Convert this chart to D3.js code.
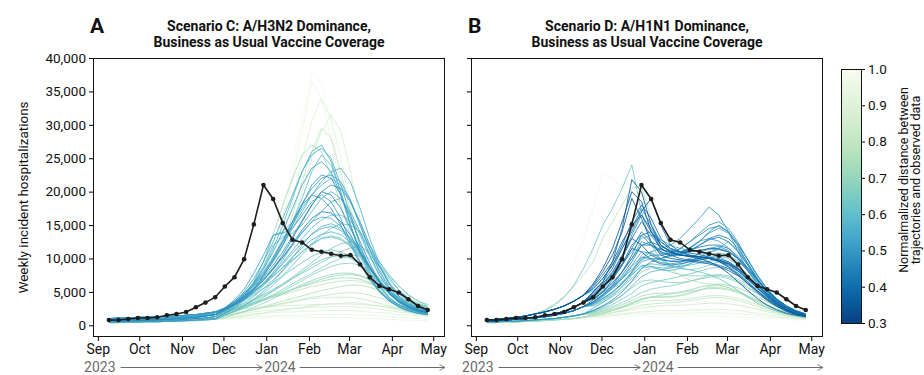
<!DOCTYPE html>
<html>
<head>
<meta charset="utf-8">
<script src="https://cdn.jsdelivr.net/npm/d3@7"></script>
<style>
body { margin: 0; background: #fff; }
svg text { font-family: Roboto, "DejaVu Sans", sans-serif; }
</style>
</head>
<body>
<div id="chart"></div>
<script>
//////////////////////////////////////////////////////////////////////////
// data (hospitalizations are in thousands)

var weekDates = ["2023-09-09","2023-09-16","2023-09-23","2023-09-30","2023-10-07","2023-10-14",
  "2023-10-21","2023-10-28","2023-11-04","2023-11-11","2023-11-18","2023-11-25","2023-12-02",
  "2023-12-09","2023-12-16","2023-12-23","2023-12-30","2024-01-06","2024-01-13","2024-01-20",
  "2024-01-27","2024-02-03","2024-02-10","2024-02-17","2024-02-24","2024-03-02","2024-03-09",
  "2024-03-16","2024-03-23","2024-03-30","2024-04-06","2024-04-13","2024-04-20","2024-04-27"];

var monthTicks = ["2023-09-01","2023-10-01","2023-11-01","2023-12-01","2024-01-01",
  "2024-02-01","2024-03-01","2024-04-01","2024-05-01"];

var yearLabels = ["2023", "2024"];
var yTicks = [0, 5, 10, 15, 20, 25, 30, 35, 40];
var colorTicks = [0.3, 0.4, 0.5, 0.6, 0.7, 0.8, 0.9, 1.0];

var panelLetters = ["A", "B"];
var panelTitles = [["Scenario C: A/H3N2 Dominance,", "Business as Usual Vaccine Coverage"],
                   ["Scenario D: A/H1N1 Dominance,", "Business as Usual Vaccine Coverage"]];

// observed weekly hospitalizations (same for both panels)
var observed = [0.8,0.8,0.95,1.1,1.1,1.2,1.5,1.7,2.0,2.7,3.4,4.2,5.8,7.2,9.9,15.1,21.0,18.9,15.3,
  12.8,12.4,11.3,11.0,10.7,10.4,10.5,9.1,7.2,5.9,5.4,4.9,3.9,2.9,2.3];

// scenario C trajectories and their distance to the data
var distA = [0.98,0.94,0.9,0.86,0.8,0.74,0.58,0.55,0.6,0.53,0.5,0.47,0.45,0.5,0.52,0.55,0.57,0.62,
  0.55,0.6,0.65,0.63,0.68,0.7,0.72,0.66,0.76,0.8,0.84,0.87,0.9,0.93,0.85,0.78,0.5,0.95,0.57,0.6,
  0.55,0.58,0.53,0.61,0.64,0.56,0.67,0.59,0.73,0.82];

var trajA = [
  [0.8,0.8,0.9,0.9,1.0,1.0,1.1,1.2,1.3,1.4,1.6,1.9,2.3,3.0,4.2,6,8.5,12,17,24,31,38,36,30,22,15,10,6.5,4.5,3.2,2.5,2,1.7,1.5],
  [0.6,0.6,0.6,0.7,0.7,0.7,0.8,0.8,0.9,1.0,1.1,1.3,2.0,2.8,3.8,5.4,7.8,11,16,22,29,36.4,34,28,21,14,9.5,6.2,4.3,3.1,2.4,1.9,1.6,1.4],
  [0.7,0.7,0.8,0.8,0.8,0.9,0.9,1.0,1.1,1.2,1.4,1.6,2.2,2.9,3.9,5.3,7.3,10,13.5,18.5,25,30.5,34,31,25,18,12,8,5.4,3.8,2.8,2.2,1.8,1.6],
  [0.6,0.6,0.6,0.7,0.7,0.7,0.8,0.8,0.9,1.0,1.1,1.3,1.8,2.4,3.2,4.3,5.8,8,11,15,20,25,29,31.5,29,23,16,10.5,7,4.8,3.4,2.6,2.1,1.8],
  [0.5,0.5,0.5,0.5,0.6,0.6,0.6,0.7,0.7,0.8,0.9,1.0,1.6,2.2,3.0,4.2,6,8.5,12,16.5,21.5,26,29.5,28,23,17,11.5,7.8,5.3,3.7,2.7,2.1,1.7,1.5],
  [0.8,0.8,0.9,0.9,1.0,1.0,1.1,1.2,1.3,1.4,1.6,1.9,2.4,3.2,4.5,6.5,9.5,13.5,18,22,25.5,27,26,22.5,18,13.5,9.5,6.8,5,3.8,3,2.5,2.2,2],
  [0.7,0.7,0.8,0.8,0.8,0.9,0.9,1.0,1.1,1.2,1.4,1.6,2.5,3.4,4.6,6.2,8.5,11.5,15,19,23,26,27,24.5,20,15,11,7.5,5.2,3.7,2.8,2.2,1.8,1.6],
  [1.0,1.1,1.1,1.2,1.2,1.3,1.3,1.4,1.5,1.6,1.8,2.0,2.6,3.6,5,7,9.5,12.5,16,19.5,23,25.5,26.5,25,21,16.5,12,8.5,6,4.2,3.1,2.4,2,1.8],
  [0.6,0.6,0.6,0.7,0.7,0.7,0.8,0.8,0.9,1.0,1.1,1.3,2.0,2.8,4.2,6.5,9.5,13.5,14,15.5,19,23,25.5,24,20,15,10.5,7.2,5,3.6,2.7,2.1,1.8,1.6],
  [0.8,0.8,0.9,0.9,1.0,1.0,1.1,1.2,1.3,1.4,1.6,1.9,2.6,3.6,4.8,6.4,8.4,11,14,17.5,21,23.5,24.5,23,19.5,15,11,8,5.7,4.1,3.1,2.4,2,1.8],
  [1.0,1.1,1.1,1.2,1.2,1.3,1.3,1.4,1.5,1.6,1.8,2.0,2.5,3.3,4.4,5.8,7.5,9.5,12,15,18,21,22.5,22,19.5,16,12.5,9.3,6.6,4.7,3.4,2.6,2.1,1.8],
  [0.6,0.6,0.6,0.7,0.7,0.7,0.8,0.8,0.9,1.0,1.1,1.3,2.2,3.0,4.0,5.2,6.7,8.5,10.5,13,15.5,18,20,19.5,17.5,14.5,11.5,8.8,6.5,4.8,3.6,2.8,2.3,2],
  [0.7,0.7,0.8,0.8,0.8,0.9,0.9,1.0,1.1,1.2,1.4,1.6,2.4,3.2,4.2,5.4,6.8,8.4,10.2,12.2,14.3,16,17,16.8,15.5,13.5,11,8.6,6.5,4.8,3.6,2.8,2.2,1.9],
  [0.5,0.5,0.5,0.5,0.6,0.6,0.6,0.7,0.7,0.8,0.9,1.0,1.8,2.6,3.8,5.4,7.4,9.8,12.5,15.5,18,19.5,19,17.5,15,12,9.2,6.8,5,3.7,2.8,2.2,1.8,1.6],
  [1.0,1.1,1.1,1.2,1.2,1.3,1.3,1.4,1.5,1.6,1.8,2.0,2.6,3.8,5.4,7.8,10.5,13.5,13.8,14.5,16.5,18.5,19.5,18.5,16,12.5,9.5,7,5.2,3.9,3,2.4,2,1.8],
  [0.8,0.8,0.9,0.9,1.0,1.0,1.1,1.2,1.3,1.4,1.6,1.9,2.3,3.0,3.9,5.0,6.3,7.9,9.8,12,14,15.5,16.2,16,14.8,13,10.8,8.6,6.6,5,3.8,3,2.5,2.2],
  [0.4,0.4,0.5,0.5,0.5,0.5,0.6,0.6,0.7,0.7,0.8,0.9,1.5,2.1,2.9,3.9,5.1,6.5,8.2,10.1,12,13.7,14.8,15.2,14.5,13,11,8.8,6.8,5.1,3.9,3.1,2.6,2.3],
  [0.5,0.5,0.5,0.5,0.6,0.6,0.6,0.7,0.7,0.8,0.9,1.0,1.8,2.3,3,3.8,4.8,6,7.4,9,10.6,12,13,13.4,13,12,10.5,8.6,6.8,5.2,4,3.2,2.7,2.4],
  [0.7,0.7,0.8,0.8,0.8,0.9,0.9,1.0,1.1,1.2,1.4,1.6,2.3,3.1,4.2,5.5,7,8.6,10.2,12,13.8,15.5,17,18.5,19,17,14,10.5,7.5,5.3,3.8,2.9,2.3,2],
  [1.0,1.1,1.1,1.2,1.2,1.3,1.3,1.4,1.5,1.6,1.8,2.0,2.5,3.3,4.2,5.2,6.2,7.4,8.6,9.8,11,12.2,13.5,14.5,15.2,15,14,12,9.5,7.2,5.3,4,3.1,2.6],
  [0.6,0.6,0.6,0.7,0.7,0.7,0.8,0.8,0.9,1.0,1.1,1.3,1.9,2.4,3,3.7,4.4,5.2,6.2,7.2,8.3,9.4,10.5,11.5,12.2,12.5,12,10.6,8.8,6.9,5.3,4.1,3.3,2.8],
  [0.8,0.8,0.9,0.9,1.0,1.0,1.1,1.2,1.3,1.4,1.6,1.9,2.2,2.9,3.7,4.6,5.5,6.4,7.4,8.4,9.4,10.3,11,11.3,11,10.3,9.2,7.8,6.4,5.1,4,3.2,2.7,2.4],
  [0.5,0.5,0.5,0.5,0.6,0.6,0.6,0.7,0.7,0.8,0.9,1.0,1.6,2,2.5,3.1,3.7,4.4,5.1,5.9,6.7,7.5,8.2,8.8,9.2,9.3,9,8.2,7,5.8,4.7,3.8,3.1,2.6],
  [0.4,0.4,0.5,0.5,0.5,0.5,0.6,0.6,0.7,0.7,0.8,0.9,1.2,1.6,2.1,2.7,3.3,4,4.7,5.4,6.1,6.7,7.2,7.6,7.8,7.8,7.5,6.8,5.9,4.9,4,3.3,2.8,2.4],
  [1.0,1.1,1.1,1.2,1.2,1.3,1.3,1.4,1.5,1.6,1.8,2.0,2.1,2.5,2.9,3.4,3.9,4.4,4.9,5.4,5.9,6.4,6.9,7.3,7.5,7.6,7.4,6.8,6,5.1,4.2,3.5,3,2.6],
  [0.8,0.8,0.9,0.9,1.0,1.0,1.1,1.2,1.3,1.4,1.6,1.9,2.1,2.6,3.2,3.9,4.6,5.4,6.2,7,7.8,8.6,9.4,10.2,11,11.6,11.8,11,9.5,7.6,5.9,4.5,3.6,3.1],
  [0.5,0.5,0.5,0.5,0.6,0.6,0.6,0.7,0.7,0.8,0.9,1.0,1.4,1.7,2,2.4,2.8,3.2,3.6,4,4.4,4.8,5.2,5.5,5.8,6,6,5.7,5.2,4.5,3.8,3.2,2.7,2.3],
  [0.6,0.6,0.6,0.7,0.7,0.7,0.8,0.8,0.9,1.0,1.1,1.3,1.5,1.8,2.1,2.4,2.7,3,3.3,3.6,3.9,4.2,4.4,4.6,4.8,4.9,4.8,4.5,4.1,3.6,3.1,2.7,2.3,2],
  [0.4,0.4,0.5,0.5,0.5,0.5,0.6,0.6,0.7,0.7,0.8,0.9,1.0,1.2,1.4,1.6,1.8,2.1,2.3,2.5,2.7,2.9,3.1,3.2,3.3,3.4,3.3,3.1,2.9,2.6,2.3,2,1.8,1.6],
  [0.6,0.6,0.6,0.7,0.7,0.7,0.8,0.8,0.9,1.0,1.1,1.3,1.4,1.6,1.8,2,2.2,2.3,2.4,2.5,2.6,2.7,2.7,2.8,2.8,2.8,2.7,2.6,2.4,2.2,2,1.8,1.6,1.5],
  [0.5,0.5,0.5,0.5,0.6,0.6,0.6,0.7,0.7,0.8,0.9,1.0,1.1,1.3,1.5,1.7,1.8,1.9,2,2,2.1,2.1,2.2,2.2,2.2,2.2,2.1,2,1.9,1.8,1.6,1.5,1.4,1.3],
  [0.4,0.4,0.5,0.5,0.5,0.5,0.6,0.6,0.7,0.7,0.8,0.9,1.0,1.1,1.2,1.3,1.4,1.4,1.5,1.5,1.5,1.6,1.6,1.6,1.6,1.6,1.5,1.5,1.4,1.3,1.2,1.1,1,0.9],
  [0.8,0.8,0.9,0.9,1.0,1.0,1.1,1.2,1.3,1.4,1.6,1.9,2.1,2.3,2.5,2.6,2.7,2.8,2.9,3,3,3.1,3.1,3.2,3.2,3.2,3.1,3,2.9,2.7,2.5,2.3,2.1,2],
  [1.0,1.1,1.1,1.2,1.2,1.3,1.3,1.4,1.5,1.6,1.8,2.0,2.2,2.6,3,3.4,3.8,4.2,4.6,5,5.4,5.8,6.1,6.4,6.6,6.7,6.6,6.2,5.6,4.9,4.2,3.6,3.1,2.7],
  [0.7,0.7,0.8,0.8,0.8,0.9,0.9,1.0,1.1,1.2,1.4,1.6,2.5,3.3,4.3,5.6,7.2,9,11,13.3,15.7,18,20,21,20.5,18.5,15.5,12,8.8,6.2,4.4,3.2,2.5,2.1],
  [0.4,0.4,0.5,0.5,0.5,0.5,0.6,0.6,0.7,0.7,0.8,0.9,0.9,1,1,1.1,1.1,1.2,1.2,1.2,1.2,1.2,1.2,1.2,1.2,1.1,1.1,1,1,0.9,0.8,0.8,0.7,0.7],
  [0.8,0.8,0.9,0.9,1.0,1.0,1.1,1.2,1.3,1.4,1.6,1.9,2.4,3.3,4.5,6,7.8,10,12.5,15,17.5,19.5,21,22,21,18.5,15,11.5,8.3,5.8,4.1,3,2.4,2],
  [0.7,0.7,0.8,0.8,0.8,0.9,0.9,1.0,1.1,1.2,1.4,1.6,2.2,2.9,3.8,4.9,6.2,7.7,9.4,11.2,13,14.6,15.8,16.5,16.5,15.6,13.8,11.4,8.8,6.5,4.7,3.5,2.7,2.2],
  [1.0,1.1,1.1,1.2,1.2,1.3,1.3,1.4,1.5,1.6,1.8,2.0,2.4,3.1,4,5,6.2,7.6,9.2,10.8,12.3,13.6,14.5,14.8,14.2,12.8,10.8,8.6,6.5,4.8,3.5,2.6,2,1.7],
  [0.7,0.7,0.8,0.8,0.8,0.9,0.9,1.0,1.1,1.2,1.4,1.6,2.3,3,3.8,4.8,6,7.3,8.7,10.2,11.6,12.8,13.6,14,13.6,12.4,10.6,8.6,6.6,4.9,3.6,2.7,2.1,1.8],
  [0.8,0.8,0.9,0.9,1.0,1.0,1.1,1.2,1.3,1.4,1.6,1.9,2.6,3.5,4.7,6.2,8,10.2,12.8,15.5,18.2,20.5,22,22.5,21.5,18.8,15,11.2,8,5.6,3.9,2.8,2.2,1.8],
  [0.6,0.6,0.6,0.7,0.7,0.7,0.8,0.8,0.9,1.0,1.1,1.3,2,2.6,3.4,4.4,5.5,6.8,8.2,9.6,11,12.2,13,13.2,12.8,11.8,10.2,8.4,6.6,5,3.8,2.9,2.3,1.9],
  [0.4,0.4,0.5,0.5,0.5,0.5,0.6,0.6,0.7,0.7,0.8,0.9,1.6,2.1,2.7,3.4,4.2,5.1,6,7,8,9,9.8,10.3,10.4,10,9.1,7.8,6.4,5,3.9,3,2.4,2],
  [1.0,1.1,1.1,1.2,1.2,1.3,1.3,1.4,1.5,1.6,1.8,2.0,2.6,3.5,4.6,6,7.7,9.7,12,14.5,17,19.5,21.5,23,23.5,21.5,17.5,13,9.2,6.3,4.3,3,2.3,1.9],
  [0.5,0.5,0.5,0.5,0.6,0.6,0.6,0.7,0.7,0.8,0.9,1.0,1.7,2.1,2.6,3.2,3.9,4.6,5.4,6.2,7,7.8,8.6,9.4,10,10.4,10.5,10,8.9,7.4,5.9,4.6,3.6,2.9],
  [0.8,0.8,0.9,0.9,1.0,1.0,1.1,1.2,1.3,1.4,1.6,1.9,2.4,3.3,4.5,6.3,8.8,12,13.2,13.8,15,17,19,20,19,16.5,13.5,10.3,7.5,5.3,3.8,2.8,2.2,1.9],
  [0.7,0.7,0.8,0.8,0.8,0.9,0.9,1.0,1.1,1.2,1.4,1.6,1.9,2.3,2.8,3.3,3.8,4.3,4.8,5.3,5.8,6.2,6.6,6.9,7.1,7.1,6.9,6.4,5.7,4.9,4.1,3.4,2.8,2.4],
  [0.6,0.6,0.6,0.7,0.7,0.7,0.8,0.8,0.9,1.0,1.1,1.3,1.4,1.7,2,2.3,2.6,2.9,3.2,3.5,3.8,4,4.1,4.2,4.2,4.2,4,3.7,3.3,2.9,2.5,2.1,1.8,1.6]
];

// scenario D trajectories and their distance to the data
var distB = [0.97,0.78,0.63,0.36,0.4,0.42,0.45,0.5,0.48,0.52,0.38,0.43,0.55,0.58,0.6,0.47,0.44,0.65,
  0.68,0.72,0.75,0.8,0.84,0.88,0.92,0.96,0.7,0.55,0.5,0.46,0.62,0.4,0.66,0.53,
  0.37,0.39,0.41,0.35,0.44,0.5,0.56,0.48,0.69,0.74,0.82,0.77];

var trajB = [
  [0.8,1.0,1.2,1.5,1.9,2.4,3.1,4.2,6,9,13,17.5,22.5,22,20.5,18,14.5,11,8.5,7,6,5.3,4.8,4.4,4,3.6,3.2,2.8,2.4,2.1,1.8,1.6,1.4,1.2],
  [0.7,0.8,0.9,1.1,1.4,1.8,2.4,3.2,4.3,5.8,7.5,9.5,13,15.5,18,20.5,20.8,16,11,8.5,7.5,6.8,6.4,6.2,6,5.6,5,4.3,3.6,3,2.4,2,1.7,1.5],
  [0.7,0.8,0.9,1.1,1.3,1.7,2.2,3,4.2,6,8.5,11.5,15,17.5,20.5,24,17,12,9.8,9,8.6,8.3,8,7.6,7,6.2,5.2,4.2,3.3,2.6,2.1,1.7,1.4,1.2],
  [0.7,0.7,0.8,0.9,1.0,1.2,1.4,1.7,2.1,2.7,3.5,5,6.5,9.5,14.5,21.8,20,15,12,11,10.5,10.3,10,9.5,8.8,7.8,6.5,5.2,4,3,2.3,1.8,1.5,1.3],
  [0.8,0.9,1.0,1.2,1.4,1.7,2.0,2.4,2.9,3.6,4.5,5.5,7,9,12,15.5,18,16,13,11.5,11,10.8,10.6,10.2,9.6,8.7,7.5,6.2,4.9,3.7,2.8,2.1,1.7,1.4],
  [0.6,0.7,0.8,0.9,1.0,1.1,1.3,1.5,1.8,2.2,2.8,3.5,4.6,6,8,10.5,13.5,14,12.5,11.5,11,11,11.2,11.5,11.5,11,10,8.5,6.8,5.2,3.9,2.9,2.2,1.7],
  [0.7,0.7,0.8,0.9,1.0,1.2,1.4,1.7,2.1,2.7,3.5,4.3,5.5,7,9,11.5,14,12.5,11,10.5,10.5,11,12,13,13.5,13,11.5,9.3,7,5.2,3.8,2.8,2.1,1.7],
  [0.6,0.7,0.8,0.9,1.0,1.1,1.3,1.5,1.8,2.2,2.8,3.2,4,5,6.3,8,10,11,11.5,12,13,14.5,16,17.7,16.5,14,11,8.2,6,4.4,3.2,2.4,1.9,1.5],
  [0.5,0.5,0.6,0.6,0.7,0.8,0.9,1.0,1.2,1.4,1.7,2.2,2.9,3.8,5,6.6,8.5,9.5,10,10.5,11.5,12.5,13.5,14.5,14.8,14,12.2,9.8,7.4,5.4,3.9,2.8,2.1,1.6],
  [0.7,0.7,0.8,0.9,1.0,1.2,1.4,1.7,2.1,2.7,3.5,4.2,5.2,6.4,8,10,12.5,12,11,10.5,10.8,11.6,12.6,13.8,14.5,13.8,12,9.8,7.5,5.5,4,2.9,2.2,1.7],
  [0.8,0.9,1.0,1.2,1.4,1.7,2.0,2.4,2.9,3.6,4.5,5.8,7.5,9.5,12.5,15,16.5,14,12,11,10.5,10.3,10.2,10,9.8,9.3,8.5,7.3,6,4.7,3.5,2.6,2,1.6],
  [0.7,0.7,0.8,0.9,1.0,1.2,1.4,1.7,2.1,2.7,3.5,4.5,5.8,7.5,10,13,15.5,13.5,11.5,10.5,10,9.8,9.6,9.4,9,8.5,7.6,6.5,5.2,4,3,2.3,1.8,1.5],
  [0.6,0.7,0.8,0.9,1.0,1.1,1.3,1.5,1.8,2.2,2.8,3.3,4.3,5.6,7.2,9,11,10.8,10,9.6,9.5,9.7,10,10.5,10.8,10.5,9.6,8.2,6.6,5,3.7,2.7,2,1.6],
  [0.5,0.5,0.6,0.6,0.7,0.8,0.9,1.0,1.2,1.4,1.7,2.1,2.7,3.5,4.5,5.8,7.3,8,8.3,8.6,9,9.6,10.3,11,11.3,11,10,8.4,6.6,4.9,3.6,2.6,1.9,1.5],
  [0.6,0.7,0.8,0.9,1.0,1.1,1.3,1.5,1.8,2.2,2.8,3,3.7,4.6,5.7,7,8.5,8.8,8.6,8.6,8.8,9.2,9.7,10.2,10.4,10,9,7.6,6,4.5,3.3,2.4,1.8,1.4],
  [0.8,0.9,1.0,1.2,1.4,1.7,2.0,2.4,2.9,3.6,4.5,5.5,7,9,11.5,14.5,17.5,15,12.5,11.3,10.8,10.5,10.3,10,9.5,8.8,7.8,6.5,5.1,3.9,2.9,2.2,1.7,1.4],
  [0.7,0.7,0.8,0.9,1.0,1.2,1.4,1.7,2.1,2.7,3.5,4,5,6.3,8,10,12,12,11.3,11,11,11.3,11.7,12,12,11.5,10.3,8.6,6.8,5.1,3.8,2.8,2.1,1.6],
  [0.5,0.5,0.6,0.6,0.7,0.8,0.9,1.0,1.2,1.4,1.7,2,2.5,3.1,3.9,4.8,5.9,6.4,6.7,7,7.3,7.7,8.1,8.5,8.7,8.5,7.8,6.8,5.6,4.4,3.3,2.5,1.9,1.5],
  [0.5,0.5,0.6,0.6,0.7,0.8,0.9,1.0,1.2,1.4,1.7,1.9,2.3,2.8,3.4,4.1,4.9,5.4,5.7,5.9,6.2,6.6,7,7.4,7.6,7.4,6.9,6.1,5.1,4.1,3.2,2.5,1.9,1.5],
  [0.4,0.4,0.5,0.5,0.6,0.6,0.7,0.8,0.9,1.0,1.2,1.5,1.8,2.2,2.7,3.2,3.8,4.2,4.5,4.7,5,5.3,5.7,6,6.2,6,5.6,5,4.3,3.5,2.8,2.2,1.7,1.4],
  [0.5,0.5,0.6,0.6,0.7,0.8,0.9,1.0,1.2,1.4,1.7,1.8,2.1,2.4,2.8,3.3,3.9,4.2,4.2,4.2,4.4,4.7,5.2,5.8,6,5.7,5.1,4.4,3.7,3,2.4,1.9,1.5,1.2],
  [0.4,0.4,0.5,0.5,0.6,0.6,0.7,0.8,0.9,1.0,1.2,1.4,1.6,1.9,2.2,2.6,3,3.2,3.3,3.4,3.5,3.7,3.9,4.1,4.2,4,3.7,3.3,2.8,2.3,1.9,1.5,1.2,1],
  [0.5,0.5,0.6,0.6,0.7,0.8,0.9,1.0,1.2,1.4,1.7,1.5,1.7,1.9,2.1,2.3,2.6,2.8,2.9,3,3,3.1,3.2,3.3,3.3,3.2,3,2.7,2.4,2,1.7,1.4,1.2,1],
  [0.4,0.4,0.5,0.5,0.6,0.6,0.7,0.8,0.9,1.0,1.2,1.3,1.4,1.6,1.7,1.9,2,2.1,2.2,2.2,2.2,2.3,2.3,2.4,2.4,2.3,2.2,2,1.8,1.6,1.4,1.2,1,0.9],
  [0.5,0.5,0.6,0.6,0.7,0.8,0.9,1.0,1.2,1.4,1.3,1.3,1.4,1.5,1.6,1.7,1.8,1.8,1.8,1.8,1.8,1.8,1.9,1.9,1.9,1.8,1.7,1.6,1.5,1.3,1.2,1.1,1,0.9],
  [0.4,0.4,0.5,0.5,0.6,0.6,0.7,0.8,0.9,1.0,1.2,1.2,1.2,1.3,1.3,1.4,1.4,1.4,1.4,1.4,1.4,1.4,1.4,1.4,1.4,1.3,1.3,1.2,1.1,1,1,0.9,0.8,0.8],
  [0.6,0.7,0.8,0.9,1.0,1.1,1.3,1.5,1.8,2.2,2.8,2.9,3.5,4.3,5.3,6.5,8,8.6,8.4,8,7.6,7.4,7.4,7.5,7.5,7.2,6.6,5.8,4.8,3.8,3,2.3,1.8,1.4],
  [0.8,0.9,1.0,1.2,1.4,1.7,2.0,2.4,2.9,3.6,4.5,5.2,6.3,7.6,9.2,11,13,13.5,12.8,12,11.5,11.2,11,10.8,10.3,9.5,8.4,7,5.6,4.3,3.2,2.4,1.8,1.5],
  [0.7,0.7,0.8,0.9,1.0,1.2,1.4,1.7,2.1,2.7,3.5,4,4.9,5.9,7,8.3,9.8,10.5,10.5,10.8,11.4,12.5,13.8,15,15.5,14.5,12.4,9.8,7.4,5.4,3.9,2.8,2.1,1.6],
  [0.6,0.7,0.8,0.9,1.0,1.1,1.3,1.5,1.8,2.2,2.8,3.5,4.5,5.8,7.5,9.5,12,12.5,11.8,11.2,11,11,11.2,11.4,11.4,11,10,8.5,6.8,5.2,3.9,2.9,2.1,1.6],
  [0.7,0.7,0.8,0.9,1.0,1.2,1.4,1.7,2.1,2.7,3.5,3.8,4.6,5.5,6.5,7.6,8.8,9.2,9,8.8,8.8,9,9.3,9.6,9.7,9.3,8.4,7.2,5.9,4.6,3.5,2.6,2,1.6],
  [0.7,0.7,0.8,0.9,1.0,1.2,1.4,1.7,2.1,2.7,3.5,5,6.5,8.5,11.5,14,17,19,15,12,11,10.5,10.2,10,9.7,9.2,8.4,7.3,6,4.7,3.5,2.6,2,1.6],
  [0.6,0.7,0.8,0.9,1.0,1.1,1.3,1.5,1.8,2.2,2.8,3,3.8,4.8,6.2,8,10.5,11,10,9,8.5,8.3,8.5,9,9.5,9.2,8.3,7,5.7,4.4,3.3,2.5,1.9,1.5],
  [0.6,0.7,0.8,0.9,1.0,1.1,1.3,1.5,1.8,2.2,2.8,3.2,4,5,6.2,7.8,9.5,10,10,10.3,10.8,11.6,12.6,13,12.6,11.6,10,8.2,6.4,4.8,3.5,2.6,2,1.6],
  [0.8,0.9,1.0,1.2,1.4,1.7,2.0,2.4,2.9,3.6,4.5,6,8,10.5,14,19,16,12.5,10.5,10,9.8,9.6,9.4,9.2,8.8,8.2,7.4,6.3,5.1,3.9,2.9,2.1,1.6,1.3],
  [0.7,0.7,0.8,0.9,1.0,1.2,1.4,1.7,2.1,2.7,3.5,4.8,6.2,8,10.5,13,12,10.5,9.8,9.6,9.6,9.8,10,10.2,10,9.5,8.6,7.3,5.9,4.5,3.3,2.4,1.8,1.4],
  [0.6,0.7,0.8,0.9,1.0,1.1,1.3,1.5,1.8,2.2,2.8,3.8,5,6.8,9,11.5,11,9.8,9.2,9,9.2,9.5,9.8,10,9.8,9.2,8.2,6.9,5.5,4.2,3.1,2.3,1.7,1.3],
  [0.8,0.9,1.0,1.2,1.4,1.7,2.0,2.4,2.9,3.6,4.5,6.2,8.5,11.5,15.5,20,18.5,14,11.5,10.8,10.5,10.4,10.3,10,9.6,9,8.1,6.9,5.6,4.3,3.2,2.3,1.7,1.4],
  [0.7,0.7,0.8,0.9,1.0,1.2,1.4,1.7,2.1,2.7,3.5,4.4,5.6,7.2,9.2,12,13.5,12,10.8,10.4,10.6,11.2,12,12.8,13.2,12.5,11,9,6.9,5.1,3.7,2.7,2,1.5],
  [0.6,0.7,0.8,0.9,1.0,1.1,1.3,1.5,1.8,2.2,2.8,3.4,4.3,5.5,7,8.8,10.2,10,9.4,9.2,9.4,10,10.8,11.5,11.8,11.2,9.9,8.1,6.3,4.7,3.4,2.5,1.9,1.5],
  [0.5,0.5,0.6,0.6,0.7,0.8,0.9,1.0,1.2,1.4,1.7,2.6,3.4,4.4,5.8,7.5,9,8.8,8.3,8.2,8.5,9.2,10,10.8,11.6,12.5,11.2,9,6.8,5,3.6,2.6,1.9,1.5],
  [0.7,0.7,0.8,0.9,1.0,1.2,1.4,1.7,2.1,2.7,3.5,4.6,6,7.8,10.2,13.5,16.5,14.5,12,11,11,11.5,12.5,14,15,14,11.8,9.2,6.8,4.9,3.5,2.5,1.9,1.5],
  [0.5,0.5,0.6,0.6,0.7,0.8,0.9,1.0,1.2,1.4,1.7,2.3,2.9,3.6,4.5,5.6,6.6,6.8,6.6,6.4,6.4,6.6,6.9,7.2,7.3,7,6.4,5.6,4.7,3.8,3,2.3,1.8,1.4],
  [0.4,0.4,0.5,0.5,0.6,0.6,0.7,0.8,0.9,1.0,1.2,1.7,2.1,2.6,3.1,3.7,4.4,4.7,4.8,4.8,4.9,5.1,5.3,5.5,5.5,5.3,4.9,4.4,3.8,3.1,2.5,2,1.6,1.3],
  [0.5,0.5,0.6,0.6,0.7,0.8,0.9,1.0,1.2,1.4,1.7,1.6,1.9,2.2,2.6,3,3.5,3.7,3.7,3.7,3.8,4,4.2,4.4,4.5,4.3,4,3.6,3.1,2.6,2.1,1.7,1.4,1.1],
  [0.4,0.4,0.5,0.5,0.6,0.6,0.7,0.8,0.9,1.0,1.2,1.6,1.9,2.3,2.8,3.4,4,4.3,4.3,4.3,4.5,4.9,5.3,5.6,5.7,5.4,4.9,4.2,3.5,2.8,2.2,1.7,1.4,1.1]
];

//////////////////////////////////////////////////////////////////////////
// layout

var Width = 924;
var Height = 375;
var PlotTop = 58;
var PlotWidth = 352;
var PlotHeight = 279;
var PanelLefts = [93, 471];
var LineOpacity = 0.85;
var YearGray = "#6b6b6b";

var parseDate = d3.timeParse("%Y-%m-%d");

function initialize () {

    var svg = d3.select("#chart")
        .append("svg")
        .attr("width", Width)
        .attr("height", Height);

    // arrowhead for the year row
    svg.append("defs").append("marker")
        .attr("id", "arrow")
        .attr("viewBox", "0 0 10 10")
        .attr("refX", 9).attr("refY", 5)
        .attr("markerWidth", 7).attr("markerHeight", 7)
        .attr("markerUnits", "userSpaceOnUse")
        .attr("orient", "auto")
        .append("path")
        .attr("d", "M1,1 L9,5 L1,9")
        .attr("fill", "none")
        .attr("stroke", YearGray)
        .attr("stroke-width", 1.2);

    var dates = weekDates.map(parseDate);

    var xScale = d3.scaleTime()
        .domain([new Date(2023, 7, 28, 12), new Date(2024, 4, 9, 12)])
        .range([0, PlotWidth]);

    var yScale = d3.scaleLinear()
        .domain([-1.75, 40])
        .range([PlotHeight, 0]);

    // GnBu reversed: 0.3 is dark blue, 1.0 is almost white
    var colorScale = d3.scaleSequential(function (t) { return d3.interpolateGnBu(1 - t); })
        .domain([0.3, 1.0]);

    makePanel(svg, 0, trajA, distA, dates, xScale, yScale, colorScale, true);
    makePanel(svg, 1, trajB, distB, dates, xScale, yScale, colorScale, false);

    makeColorbar(svg, colorScale);

} // end initialize

// one scenario panel
function makePanel (svg, idx, traj, dist, dates, xScale, yScale, colorScale, showYLabels) {

    var left = PanelLefts[idx];
    var g = svg.append("g")
        .attr("transform", "translate(" + left + "," + PlotTop + ")");

    var line = d3.line()
        .x(function (v, i) { return xScale(dates[i]); })
        .y(function (v) { return yScale(v); });

    // far trajectories first so the close ones end up on top
    var rows = traj.map(function (v, i) { return { d: dist[i], v: v }; })
        .sort(function (a, b) { return b.d - a.d; });

    g.append("g")
        .selectAll("path")
        .data(rows)
        .enter()
        .append("path")
        .attr("d", function (r) { return line(r.v); })
        .attr("fill", "none")
        .attr("stroke", function (r) { return colorScale(r.d); })
        .attr("stroke-width", 1)
        .attr("stroke-opacity", LineOpacity);

    // observed data
    g.append("path")
        .attr("d", line(observed))
        .attr("fill", "none")
        .attr("stroke", "#1e1e1e")
        .attr("stroke-width", 1.6);

    g.append("g")
        .selectAll("circle")
        .data(observed)
        .enter()
        .append("circle")
        .attr("cx", function (v, i) { return xScale(dates[i]); })
        .attr("cy", function (v) { return yScale(v); })
        .attr("r", 2.3)
        .attr("fill", "#1e1e1e");

    // axes
    var yAxis = d3.axisLeft(yScale)
        .tickValues(yTicks)
        .tickSize(4)
        .tickSizeOuter(0)
        .tickFormat(function (d) { return showYLabels ? d3.format(",")(d * 1000) : ""; });

    var yG = g.append("g").call(yAxis);
    yG.select(".domain").remove();
    yG.selectAll("text").attr("font-size", "13.5px").attr("fill", "#111");

    var xAxis = d3.axisBottom(xScale)
        .tickValues(monthTicks.map(parseDate))
        .tickSize(4)
        .tickSizeOuter(0)
        .tickFormat(d3.timeFormat("%b"));

    var xG = g.append("g")
        .attr("transform", "translate(0," + PlotHeight + ")")
        .call(xAxis);
    xG.select(".domain").remove();
    xG.selectAll("text").attr("font-size", "14px").attr("fill", "#111");

    // frame
    g.append("rect")
        .attr("x", 0.5).attr("y", 0.5)
        .attr("width", PlotWidth - 1).attr("height", PlotHeight - 1)
        .attr("fill", "none")
        .attr("stroke", "#111")
        .attr("stroke-width", 1);

    if (showYLabels) {
        svg.append("text")
            .attr("transform", "translate(28," + (PlotTop + PlotHeight / 2) + ") rotate(-90)")
            .attr("text-anchor", "middle")
            .attr("font-size", "13.5px")
            .attr("fill", "#111")
            .text("Weekly incident hospitalizations");
    }

    // title and panel letter
    var cx = left + PlotWidth / 2;
    [31, 47].forEach(function (ty, k) {
        svg.append("text")
            .attr("x", cx)
            .attr("y", ty)
            .attr("text-anchor", "middle")
            .attr("font-size", "14px")
            .attr("font-weight", "bold")
            .attr("fill", "#111")
            .text(panelTitles[idx][k]);
    });

    svg.append("text")
        .attr("x", left - 3)
        .attr("y", 33)
        .attr("font-size", "21px")
        .attr("font-weight", "bold")
        .attr("fill", "#111")
        .text(panelLetters[idx]);

    makeYearRow(svg, left, xScale);

} // end makePanel

// "2023 ---> 2024 --->" row under the month labels
function makeYearRow (svg, left, xScale) {

    var y = 372;
    var yLine = 367.5;

    var t1 = svg.append("text")
        .attr("x", left + xScale(parseDate(monthTicks[0])) + 2)
        .attr("y", y)
        .attr("text-anchor", "middle")
        .attr("font-size", "14px")
        .attr("fill", YearGray)
        .text(yearLabels[0]);

    var t2 = svg.append("text")
        .attr("x", left + xScale(parseDate(monthTicks[4])) - 2)
        .attr("y", y)
        .attr("font-size", "14px")
        .attr("fill", YearGray)
        .text(yearLabels[1]);

    var w1 = t1.node().getComputedTextLength();
    var w2 = t2.node().getComputedTextLength();
    var x1 = +t1.attr("x") + w1 / 2 + 5;
    var x2 = +t2.attr("x") - 2;
    var x3 = +t2.attr("x") + w2 + 4;
    var x4 = left + PlotWidth;

    [[x1, x2], [x3, x4]].forEach(function (seg) {
        svg.append("line")
            .attr("x1", seg[0]).attr("x2", seg[1])
            .attr("y1", yLine).attr("y2", yLine)
            .attr("stroke", YearGray)
            .attr("stroke-width", 1.2)
            .attr("marker-end", "url(#arrow)");
    });

} // end makeYearRow

// colour bar on the right
function makeColorbar (svg, colorScale) {

    var cbX = 841, cbTop = 69, cbBottom = 323, cbW = 20;

    var cbScale = d3.scaleLinear()
        .domain([0.3, 1.0])
        .range([cbBottom, cbTop]);

    var grad = svg.select("defs").append("linearGradient")
        .attr("id", "cbgrad")
        .attr("x1", 0).attr("x2", 0).attr("y1", 1).attr("y2", 0);

    grad.selectAll("stop")
        .data(d3.range(0, 1.0001, 0.05))
        .enter()
        .append("stop")
        .attr("offset", function (t) { return t; })
        .attr("stop-color", function (t) { return colorScale(0.3 + 0.7 * t); });

    svg.append("rect")
        .attr("x", cbX + 0.5).attr("y", cbTop + 0.5)
        .attr("width", cbW).attr("height", cbBottom - cbTop)
        .attr("fill", "url(#cbgrad)")
        .attr("stroke", "#111")
        .attr("stroke-width", 1);

    var cbAxis = d3.axisRight(cbScale)
        .tickValues(colorTicks)
        .tickSize(4)
        .tickSizeOuter(0)
        .tickFormat(d3.format(".1f"));

    var cbG = svg.append("g")
        .attr("transform", "translate(" + (cbX + cbW) + ",0)")
        .call(cbAxis);
    cbG.select(".domain").remove();
    cbG.selectAll("text").attr("font-size", "13.5px").attr("fill", "#111");

    [["Normalmalized distance between", 908], ["trajectories and observed data", 919.5]].forEach(function (l) {
        svg.append("text")
            .attr("transform", "translate(" + l[1] + ",180) rotate(-90)")
            .attr("text-anchor", "middle")
            .attr("font-size", "12.5px")
            .attr("fill", "#111")
            .text(l[0]);
    });

} // end makeColorbar

initialize();
</script>
</body>
</html>
